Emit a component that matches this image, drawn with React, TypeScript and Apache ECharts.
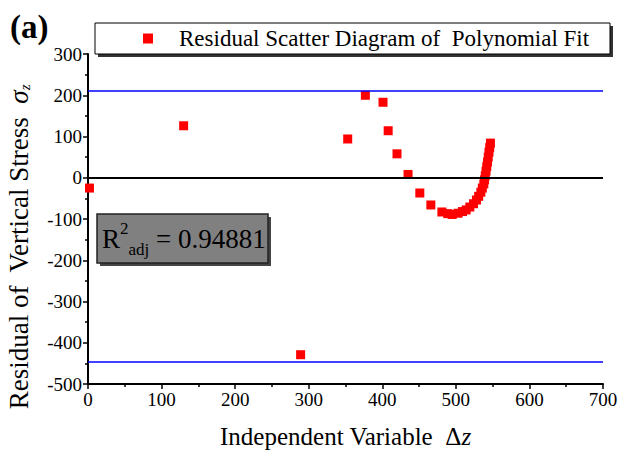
import React, { useEffect, useRef } from "react";
import * as echarts from "echarts";

const xValues = [2, 130, 289, 353, 377, 401, 408, 420, 435, 451, 466, 481, 489, 495, 503, 509, 514, 519, 524, 528, 531, 534, 536, 538, 539, 540, 541, 542, 543, 544, 545, 546, 547];
const yValues = [-25, 126, -429, 94, 200, 183, 114, 58, 8, -37, -66, -83, -87, -89, -86, -82, -78, -71, -63, -54, -45, -35, -25, -15, -5, 5, 16, 27, 38, 50, 62, 73, 84];
const refLines = [210, -445];
const zeroLine = [0];
const xTicks = { min: 0, max: 700, interval: 100 };
const yTicks = { min: -500, max: 300, interval: 100 };
const seriesName = "Residual Scatter Diagram of  Polynomial Fit";
const r2Value = "0.94881";

const SERIF = "'Liberation Serif', 'Times New Roman', serif";

export default function App() {
  const ref = useRef<HTMLDivElement>(null);
  useEffect(() => {
    if (!ref.current) return;
    const chart = echarts.init(ref.current, undefined, { renderer: "svg" });
    const data = xValues.map((x, i) => [x, yValues[i]]);
    chart.setOption({
      animation: false,
      backgroundColor: "#fff",
      grid: { left: 88, right: 18, top: 54, bottom: 66, containLabel: false, outerBoundsMode: "none" },
      legend: {
        left: 95,
        top: 24,
        padding: [3, 40, 3, 48],
        itemWidth: 10,
        itemHeight: 10,
        itemGap: 0,
        icon: "rect",
        z: 10,
        itemStyle: { opacity: 1 },
        textStyle: { fontFamily: SERIF, fontSize: 23, color: "#000", padding: [0, 0, 0, 21] },
        data: [seriesName],
      },
      xAxis: {
        type: "value",
        min: xTicks.min,
        max: xTicks.max,
        interval: xTicks.interval,
        name: "Independent Variable  Δ{i|z}",
        nameLocation: "middle",
        nameGap: 40,
        nameTextStyle: {
          fontFamily: SERIF,
          fontSize: 25,
          color: "#000",
          rich: { i: { fontFamily: SERIF, fontSize: 25, fontStyle: "italic", color: "#000" } },
        },
        axisLine: { show: true, onZero: false, lineStyle: { color: "#000", width: 2 } },
        axisTick: { show: true, length: 5, lineStyle: { color: "#000", width: 1.5 } },
        minorTick: { show: true, splitNumber: 2, length: 3, lineStyle: { color: "#000", width: 1.5 } },
        axisLabel: { fontFamily: SERIF, fontSize: 19, color: "#000", margin: 6 },
        splitLine: { show: false },
      },
      yAxis: {
        type: "value",
        min: yTicks.min,
        max: yTicks.max,
        interval: yTicks.interval,
        name: "Residual of  Vertical Stress  {i|σ}{sub|z}",
        nameLocation: "middle",
        nameGap: 56,
        nameTextStyle: {
          fontFamily: SERIF,
          fontSize: 27,
          color: "#000",
          padding: [0, 56, 0, 0],
          rich: {
            i: { fontFamily: SERIF, fontSize: 27, fontStyle: "italic", color: "#000" },
            sub: { fontFamily: SERIF, fontSize: 15, fontStyle: "italic", color: "#000", verticalAlign: "bottom", lineHeight: 16 },
          },
        },
        axisLine: { show: true, onZero: false, lineStyle: { color: "#000", width: 2 } },
        axisTick: { show: true, length: 5, lineStyle: { color: "#000", width: 1.5 } },
        minorTick: { show: true, splitNumber: 2, length: 3, lineStyle: { color: "#000", width: 1.5 } },
        axisLabel: { fontFamily: SERIF, fontSize: 19, color: "#000", margin: 6 },
        splitLine: { show: false },
      },
      graphic: [
        { type: "rect", z: 5, shape: { x: 98, y: 26, width: 515, height: 31 }, style: { fill: "#333" } },
        { type: "rect", z: 6, shape: { x: 95, y: 23, width: 515, height: 31 }, style: { fill: "#fff", stroke: "#000", lineWidth: 1 } },
        {
          type: "text",
          left: 10,
          top: 10,
          z: 10,
          style: { text: "(a)", fontFamily: SERIF, fontSize: 33, fontWeight: "bold", fill: "#000" },
        },
        { type: "rect", z: 5, shape: { x: 100, y: 217, width: 171, height: 49 }, style: { fill: "#444" } },
        { type: "rect", z: 6, shape: { x: 97, y: 214, width: 171, height: 49 }, style: { fill: "#808080", stroke: "#222", lineWidth: 1.5 } },
        {
          type: "text",
          x: 102,
          y: 220,
          z: 10,
          style: {
            text: "{r|R}{sup|2}{sub|adj}{r| = " + r2Value + "}",
            rich: {
              r: { fontFamily: SERIF, fontSize: 27, fill: "#000", lineHeight: 38 },
              sup: { fontFamily: SERIF, fontSize: 17, fill: "#000", verticalAlign: "top", lineHeight: 18 },
              sub: { fontFamily: SERIF, fontSize: 17, fill: "#000", verticalAlign: "bottom", lineHeight: 12 },
            },
          },
        },
      ],
      series: [
        {
          name: seriesName,
          type: "scatter",
          symbol: "rect",
          symbolSize: 9,
          itemStyle: { color: "#ff0000", opacity: 1 },
          data,
          z: 3,
          markLine: {
            silent: true,
            symbol: ["none", "none"],
            label: { show: false },
            data: [
              ...refLines.map((v) => ({ yAxis: v, lineStyle: { color: "#0000ff", width: 1.5, type: "solid" } })),
              ...zeroLine.map((v) => ({ yAxis: v, lineStyle: { color: "#000", width: 2, type: "solid" } })),
            ],
          },
        },
      ],
    });
    return () => chart.dispose();
  }, []);
  return <div ref={ref} style={{ width: 621, height: 450, position: "absolute", left: 0, top: 0 }} />;
}
